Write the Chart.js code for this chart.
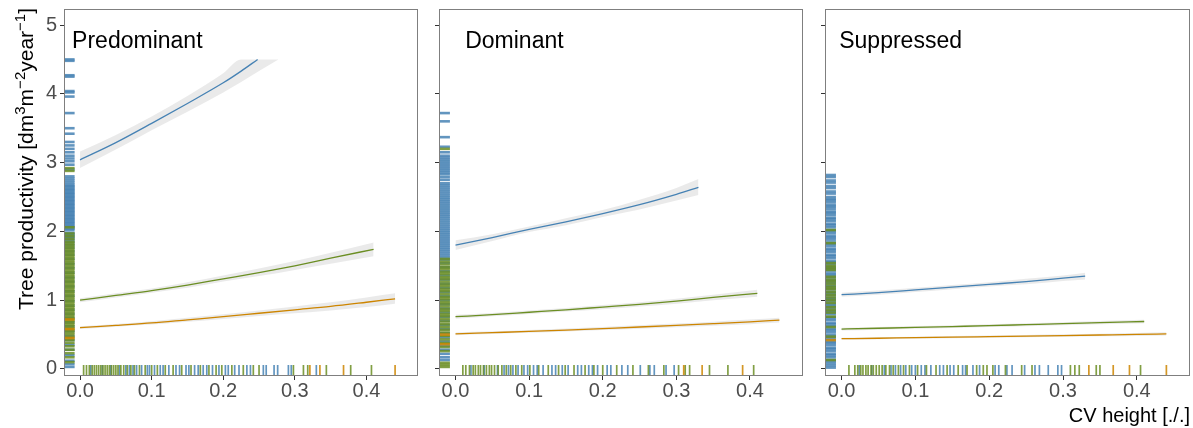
<!DOCTYPE html>
<html>
<head>
<meta charset="utf-8">
<script src="https://cdn.jsdelivr.net/npm/chart.js"></script>
<style>
    html, body { margin: 0; padding: 0; background: #fff; }
    #wrap { position: relative; width: 1193px; height: 428px; overflow: hidden; background: #fff; }
    #wrap canvas { position: absolute; top: 0; }
</style>
</head>
<body>
<div id="wrap">
    <canvas id="panel-pred" width="420" height="428" style="left:0px"></canvas>
    <canvas id="panel-dom" width="386" height="428" style="left:419px"></canvas>
    <canvas id="panel-sup" width="388" height="428" style="left:805px"></canvas>
</div>
<script>
const panelNames = ['Predominant', 'Dominant', 'Suppressed'];
const xTicks = [0, 0.1, 0.2, 0.3, 0.4];
const yTicks = [0, 1, 2, 3, 4, 5];

// x grids of the fitted curves
const blueX = [0, 0.05, 0.1, 0.15, 0.2, 0.25, 0.3, 0.33];
const greenX = [0, 0.05, 0.1, 0.15, 0.2, 0.25, 0.3, 0.35, 0.41];
const orangeX = [0, 0.05, 0.1, 0.15, 0.2, 0.25, 0.3, 0.35, 0.4, 0.44];

// Predominant
const predBlueX = [0, 0.05, 0.1, 0.15, 0.2, 0.225, 0.248];
const predBlue = [3.04, 3.29, 3.57, 3.86, 4.16, 4.33, 4.5];
const predBlueBandX = [0, 0.05, 0.1, 0.15, 0.2, 0.225, 0.25, 0.277];
const predBlueHi = [3.16, 3.4, 3.67, 3.97, 4.3, 4.5, 4.5, 4.5];
const predBlueLo = [2.92, 3.19, 3.47, 3.74, 4.02, 4.17, 4.33, 4.5];
const predGreen = [1.0, 1.07, 1.14, 1.22, 1.31, 1.4, 1.5, 1.61, 1.74];
const predGreenHi = [1.03, 1.1, 1.17, 1.26, 1.36, 1.46, 1.57, 1.69, 1.84];
const predGreenLo = [0.97, 1.04, 1.11, 1.18, 1.27, 1.35, 1.44, 1.53, 1.64];
const predOrange = [0.6, 0.635, 0.67, 0.715, 0.76, 0.81, 0.86, 0.91, 0.97, 1.02];
const predOrangeHi = [0.62, 0.655, 0.695, 0.745, 0.795, 0.85, 0.91, 0.97, 1.04, 1.1];
const predOrangeLo = [0.58, 0.615, 0.645, 0.685, 0.725, 0.77, 0.81, 0.85, 0.9, 0.95];

// Dominant
const domBlue = [1.8, 1.91, 2.03, 2.14, 2.26, 2.39, 2.54, 2.64];
const domBlueHi = [1.87, 1.96, 2.07, 2.19, 2.31, 2.46, 2.63, 2.76];
const domBlueLo = [1.73, 1.86, 1.99, 2.09, 2.21, 2.32, 2.45, 2.53];
const domGreen = [0.76, 0.79, 0.825, 0.86, 0.9, 0.94, 0.985, 1.04, 1.1];
const domGreenHi = [0.79, 0.815, 0.85, 0.885, 0.93, 0.97, 1.02, 1.08, 1.15];
const domGreenLo = [0.73, 0.765, 0.8, 0.835, 0.87, 0.91, 0.95, 1.0, 1.05];
const domOrange = [0.51, 0.528, 0.546, 0.566, 0.588, 0.61, 0.633, 0.658, 0.685, 0.71];
const domOrangeHi = [0.53, 0.548, 0.566, 0.588, 0.61, 0.635, 0.66, 0.688, 0.718, 0.745];
const domOrangeLo = [0.49, 0.508, 0.526, 0.544, 0.566, 0.585, 0.606, 0.628, 0.652, 0.675];

// Suppressed
const supBlue = [1.08, 1.11, 1.15, 1.19, 1.23, 1.27, 1.32, 1.35];
const supBlueHi = [1.11, 1.14, 1.18, 1.22, 1.26, 1.31, 1.36, 1.4];
const supBlueLo = [1.05, 1.08, 1.12, 1.16, 1.2, 1.23, 1.28, 1.3];
const supGreen = [0.58, 0.592, 0.604, 0.617, 0.63, 0.644, 0.658, 0.673, 0.69];
const supGreenHi = [0.6, 0.612, 0.624, 0.637, 0.65, 0.665, 0.68, 0.697, 0.715];
const supGreenLo = [0.56, 0.572, 0.584, 0.597, 0.61, 0.623, 0.636, 0.649, 0.665];
const supOrange = [0.44, 0.447, 0.455, 0.462, 0.47, 0.478, 0.486, 0.494, 0.502, 0.51];
const supOrangeHi = [0.455, 0.462, 0.47, 0.478, 0.486, 0.495, 0.504, 0.513, 0.523, 0.533];
const supOrangeLo = [0.425, 0.432, 0.44, 0.446, 0.454, 0.461, 0.468, 0.475, 0.481, 0.487];

// rugs on the y side
const predRugYBlue = [4.5, 4.48, 4.27, 4.25, 4.04, 4.02, 3.96, 3.72, 3.5, 3.42, 3.3, 3.25, 3.2, 3.15, 3.1, 3.06, 3.02, 2.97, 2.9,
    2.8, 2.77, 2.74, 2.71, 2.68, 2.66, 2.64, 2.62, 2.6, 2.58, 2.56, 2.54, 2.52, 2.5, 2.48, 2.46, 2.44, 2.42, 2.4, 2.38, 2.36,
    2.34, 2.32, 2.3, 2.28, 2.26, 2.24, 2.22, 2.2, 2.18, 2.16, 2.14, 2.12, 2.1, 2.08, 2.06, 2.04, 2.02, 1.98, 1.96, 1.94, 1.92,
    1.9, 1.87, 1.84, 1.8, 1.76, 1.71, 1.66, 1.6, 1.53, 1.47, 1.4, 1.33, 1.27, 1.2, 1.13, 1.06, 0.99, 0.92, 0.86, 0.8, 0.74,
    0.68, 0.62, 0.55, 0.48, 0.42, 0.35, 0.28, 0.2, 0.12, 0.07, 0.03];
const predRugYGreen = [2.92, 2.88, 2.06, 1.97, 1.93, 1.89, 1.85, 1.82, 1.79, 1.76, 1.73, 1.7, 1.67, 1.64, 1.61, 1.58, 1.55,
    1.52, 1.49, 1.46, 1.43, 1.4, 1.37, 1.34, 1.31, 1.28, 1.25, 1.22, 1.19, 1.16, 1.13, 1.1, 1.07, 1.04, 1.01, 0.98, 0.95, 0.92,
    0.89, 0.86, 0.83, 0.8, 0.77, 0.74, 0.71, 0.68, 0.65, 0.62, 0.59, 0.56, 0.53, 0.5, 0.46, 0.42, 0.38, 0.33, 0.28, 0.23, 0.17, 0.1];
const predRugYOrange = [0.45, 0.58, 0.72];

const domRugYBlue = [3.72, 3.6, 3.37, 3.23, 3.15, 3.1, 3.07, 3.04, 3.01, 2.98, 2.95, 2.92, 2.89, 2.86, 2.83, 2.79, 2.75, 2.7,
    2.67, 2.64, 2.61, 2.58, 2.55, 2.52, 2.49, 2.46, 2.43, 2.4, 2.37, 2.34, 2.31, 2.28, 2.25, 2.22, 2.19, 2.16, 2.13, 2.1, 2.07,
    2.04, 2.01, 1.98, 1.95, 1.92, 1.89, 1.86, 1.83, 1.8, 1.77, 1.74, 1.71, 1.68, 1.65, 1.62, 1.59, 1.54, 1.48, 1.42, 1.36, 1.3,
    1.24, 1.18, 1.12, 1.06, 1.0, 0.94, 0.88, 0.82, 0.76, 0.7, 0.64, 0.58, 0.52, 0.46, 0.4, 0.34, 0.28, 0.22, 0.17, 0.13];
const domRugYGreen = [3.2, 1.6, 1.56, 1.52, 1.48, 1.45, 1.41, 1.38, 1.34, 1.31, 1.27, 1.23, 1.2, 1.16, 1.13, 1.09, 1.05, 1.02,
    0.98, 0.95, 0.91, 0.87, 0.84, 0.8, 0.77, 0.73, 0.69, 0.65, 0.61, 0.57, 0.53, 0.48, 0.43, 0.38, 0.32, 0.26, 0.09, 0.06, 0.03];
const domRugYOrange = [0.36, 0.5];

const supRugYBlue = [2.82, 2.79, 2.74, 2.71, 2.66, 2.63, 2.58, 2.55, 2.5, 2.47, 2.45, 2.42, 2.38, 2.36, 2.33, 2.29, 2.27, 2.24,
    2.2, 2.18, 2.15, 2.11, 2.09, 2.06, 2.02, 2.0, 1.97, 1.93, 1.91, 1.88, 1.84, 1.82, 1.79, 1.75, 1.73, 1.7, 1.66, 1.64, 1.61,
    1.57, 1.55, 1.52, 1.48, 1.46, 1.43, 1.39, 1.37, 1.34, 1.3, 1.28, 1.25, 1.21, 1.19, 1.16, 1.12, 1.1, 1.07, 1.03, 1.01, 0.98,
    0.94, 0.92, 0.89, 0.85, 0.83, 0.8, 0.76, 0.74, 0.71, 0.67, 0.65, 0.62, 0.58, 0.56, 0.53, 0.49, 0.47, 0.44, 0.4, 0.38, 0.35,
    0.31, 0.29, 0.26, 0.22, 0.2, 0.17, 0.13, 0.11, 0.08, 0.05, 0.02];
const supRugYGreen = [2.02, 1.83, 1.54, 1.5, 1.47, 1.44, 1.34, 1.3, 1.27, 1.23, 1.19, 1.16, 1.12, 1.08, 1.04, 1.0, 0.96, 0.9,
    0.86, 0.82, 0.76, 0.61, 0.47, 0.13];
const supRugYOrange = [0.42];

// rugs on the x side
const predRugXGreen = [0.005, 0.009, 0.013, 0.017, 0.02, 0.023, 0.026, 0.029, 0.032, 0.035, 0.038, 0.041, 0.044, 0.047, 0.05,
    0.053, 0.057, 0.061, 0.066, 0.071, 0.076, 0.083, 0.091, 0.1, 0.108, 0.119, 0.13, 0.142, 0.155, 0.168, 0.18, 0.19, 0.198,
    0.212, 0.228, 0.242, 0.25, 0.298, 0.312, 0.318, 0.344, 0.378, 0.407];
const predRugXBlue = [0.015, 0.031, 0.043, 0.055, 0.064, 0.069, 0.074, 0.079, 0.086, 0.094, 0.097, 0.104, 0.112, 0.116, 0.124,
    0.134, 0.139, 0.148, 0.152, 0.16, 0.165, 0.172, 0.177, 0.185, 0.194, 0.203, 0.207, 0.216, 0.222, 0.233, 0.238, 0.256, 0.26,
    0.271, 0.276, 0.291, 0.295, 0.33];
const predRugXOrange = [0.321, 0.335, 0.368, 0.44];

const domRugXGreen = [0.01, 0.014, 0.019, 0.024, 0.027, 0.031, 0.034, 0.038, 0.042, 0.046, 0.049, 0.053, 0.058, 0.063, 0.069,
    0.075, 0.082, 0.09, 0.101, 0.113, 0.126, 0.14, 0.149, 0.161, 0.176, 0.188, 0.2, 0.219, 0.241, 0.262, 0.283, 0.303, 0.312,
    0.318, 0.345, 0.37, 0.405];
const domRugXBlue = [0.021, 0.039, 0.057, 0.066, 0.072, 0.078, 0.085, 0.093, 0.098, 0.106, 0.111, 0.119, 0.131, 0.136, 0.145,
    0.153, 0.166, 0.171, 0.181, 0.186, 0.193, 0.206, 0.211, 0.226, 0.234, 0.251, 0.264, 0.27, 0.286, 0.297];
const domRugXOrange = [0.31, 0.335, 0.39];

const supRugXGreen = [0.01, 0.018, 0.022, 0.026, 0.029, 0.033, 0.036, 0.04, 0.043, 0.047, 0.051, 0.055, 0.06, 0.065, 0.07,
    0.077, 0.084, 0.092, 0.103, 0.115, 0.128, 0.143, 0.158, 0.17, 0.183, 0.192, 0.197, 0.205, 0.222, 0.244, 0.258, 0.31,
    0.316, 0.322, 0.345, 0.35, 0.405];
const supRugXBlue = [0.024, 0.041, 0.058, 0.067, 0.073, 0.08, 0.087, 0.095, 0.1, 0.108, 0.113, 0.121, 0.133, 0.138, 0.147,
    0.152, 0.164, 0.168, 0.178, 0.187, 0.208, 0.213, 0.224, 0.231, 0.248, 0.262, 0.268, 0.28, 0.293, 0.298];
const supRugXOrange = [0.335, 0.368, 0.39, 0.44];

const fontFamily = '"Liberation Sans", Arial, sans-serif';
const blueColor = '#4682B4';
const greenColor = '#6B8E23';
const orangeColor = '#CD8500';
const bandColor = 'rgba(150, 150, 150, 0.2)';
const rugBlue = 'rgba(70, 130, 180, 0.85)';
const rugGreen = 'rgba(107, 142, 35, 0.85)';
const rugOrange = 'rgba(205, 133, 0, 0.85)';

function toPoints(xs, ys) {
    return xs.map((x, i) => ({ x: x, y: ys[i] }));
}

function rugPlugin(rugsX, rugsY) {
    return {
        id: 'rug',
        beforeDatasetsDraw(chart) {
            const { ctx, chartArea, scales } = chart;
            const lenY = (chartArea.right - chartArea.left) * 0.03;
            const lenX = (chartArea.bottom - chartArea.top) * 0.03;
            ctx.save();
            ctx.lineWidth = 2.6;
            rugsY.forEach(r => {
                ctx.strokeStyle = r.color;
                r.values.forEach(v => {
                    const py = scales.y.getPixelForValue(v);
                    ctx.beginPath();
                    ctx.moveTo(chartArea.left, py);
                    ctx.lineTo(chartArea.left + lenY, py);
                    ctx.stroke();
                });
            });
            ctx.lineWidth = 1.7;
            rugsX.forEach(r => {
                ctx.strokeStyle = r.color;
                r.values.forEach(v => {
                    const px = scales.x.getPixelForValue(v);
                    ctx.beginPath();
                    ctx.moveTo(px, chartArea.bottom);
                    ctx.lineTo(px, chartArea.bottom - lenX);
                    ctx.stroke();
                });
            });
            ctx.restore();
        }
    };
}

function drawYTitle(ctx) {
    const parts = [
        ['Tree productivity [dm', false], ['3', true], ['m', false], ['\u22122', true],
        ['year', false], ['\u22121', true], [']', false]
    ];
    const mainFont = '21px ' + fontFamily;
    const supFont = '15px ' + fontFamily;
    ctx.save();
    ctx.translate(33, 159);
    ctx.rotate(-Math.PI / 2);
    ctx.fillStyle = '#000';
    ctx.textBaseline = 'alphabetic';
    let total = 0;
    parts.forEach(p => {
        ctx.font = p[1] ? supFont : mainFont;
        total += ctx.measureText(p[0]).width;
    });
    let pos = -total / 2;
    parts.forEach(p => {
        ctx.font = p[1] ? supFont : mainFont;
        ctx.fillText(p[0], pos, p[1] ? -8 : 0);
        pos += ctx.measureText(p[0]).width;
    });
    ctx.restore();
}

function labelPlugin(name, withYTitle) {
    return {
        id: 'panelLabel',
        afterDraw(chart) {
            const { ctx, chartArea, scales } = chart;
            ctx.save();
            // panel frame
            ctx.strokeStyle = '#7f7f7f';
            ctx.lineWidth = 1;
            ctx.strokeRect(chartArea.left + 0.5, chartArea.top + 0.5,
                chartArea.right - chartArea.left - 1, chartArea.bottom - chartArea.top - 1);
            ctx.fillStyle = '#000';
            ctx.font = '23px ' + fontFamily;
            ctx.textAlign = 'center';
            ctx.textBaseline = 'alphabetic';
            ctx.fillText(name, scales.x.getPixelForValue(0.08), scales.y.getPixelForValue(4.66));
            ctx.restore();
            if (withYTitle) drawYTitle(ctx);
        }
    };
}

function createPanel(canvasId, cfg) {
    const ctx = document.getElementById(canvasId).getContext('2d');
    let datasets = [];
    cfg.lines.forEach(l => {
        datasets.push({
            data: toPoints(l.x, l.y),
            borderColor: l.color,
            borderWidth: 1.3,
            pointRadius: 0,
            fill: false,
            cubicInterpolationMode: 'monotone'
        });
    });
    cfg.bands.forEach(b => {
        datasets.push({
            data: toPoints(b.x, b.hi),
            borderWidth: 0,
            borderColor: 'rgba(0,0,0,0)',
            backgroundColor: bandColor,
            pointRadius: 0,
            fill: '+1',
            cubicInterpolationMode: 'monotone'
        });
        datasets.push({
            data: toPoints(b.x, b.lo),
            borderWidth: 0,
            borderColor: 'rgba(0,0,0,0)',
            pointRadius: 0,
            fill: false,
            cubicInterpolationMode: 'monotone'
        });
    });

    return new Chart(ctx, {
        type: 'line',
        data: { datasets: datasets },
        options: {
            responsive: false,
            animation: false,
            events: [],
            layout: { padding: { left: 0, right: cfg.padRight, top: 9, bottom: 0 } },
            scales: {
                x: {
                    type: 'linear',
                    min: -0.0224,
                    max: 0.472,
                    afterBuildTicks: s => { s.ticks = xTicks.map(v => ({ value: v })); },
                    afterFit: s => {
                        s.height = 52;
                        s.paddingLeft = 0;
                        s.paddingRight = 0;
                    },
                    border: { display: false },
                    grid: { drawOnChartArea: false, drawTicks: true, tickLength: 4, tickColor: '#333', tickWidth: 1 },
                    ticks: {
                        color: '#4d4d4d',
                        font: { family: fontFamily, size: 20, lineHeight: 1 },
                        padding: 1,
                        maxRotation: 0,
                        callback: v => v.toFixed(1)
                    },
                    title: {
                        display: cfg.xTitle,
                        text: 'CV height [./.]',
                        align: 'end',
                        color: '#000',
                        padding: { top: 0, bottom: 0 },
                        font: { family: fontFamily, size: 20 }
                    }
                },
                y: {
                    type: 'linear',
                    min: -0.102,
                    max: 5.233,
                    afterBuildTicks: s => { s.ticks = yTicks.map(v => ({ value: v })); },
                    afterFit: s => {
                        s.width = cfg.yWidth;
                        s.paddingTop = 0;
                        s.paddingBottom = 0;
                    },
                    border: { display: false },
                    grid: { drawOnChartArea: false, drawTicks: true, tickLength: 4, tickColor: '#333', tickWidth: 1 },
                    ticks: {
                        display: cfg.yLabels,
                        color: '#4d4d4d',
                        font: { family: fontFamily, size: 20 },
                        padding: 3,
                        callback: v => String(v)
                    }
                }
            },
            plugins: {
                legend: { display: false },
                tooltip: { enabled: false }
            }
        },
        plugins: [rugPlugin(cfg.rugsX, cfg.rugsY), labelPlugin(cfg.name, cfg.yLabels)]
    });
}

createPanel('panel-pred', {
    name: panelNames[0], yWidth: 64, padRight: 2, yLabels: true, xTitle: false,
    lines: [
        { x: predBlueX, y: predBlue, color: blueColor },
        { x: greenX, y: predGreen, color: greenColor },
        { x: orangeX, y: predOrange, color: orangeColor }
    ],
    bands: [
        { x: predBlueBandX, hi: predBlueHi, lo: predBlueLo },
        { x: greenX, hi: predGreenHi, lo: predGreenLo },
        { x: orangeX, hi: predOrangeHi, lo: predOrangeLo }
    ],
    rugsY: [
        { color: rugBlue, values: predRugYBlue },
        { color: rugGreen, values: predRugYGreen },
        { color: rugOrange, values: predRugYOrange }
    ],
    rugsX: [
        { color: rugBlue, values: predRugXBlue },
        { color: rugGreen, values: predRugXGreen },
        { color: rugOrange, values: predRugXOrange }
    ]
});

createPanel('panel-dom', {
    name: panelNames[1], yWidth: 20, padRight: 2, yLabels: false, xTitle: false,
    lines: [
        { x: blueX, y: domBlue, color: blueColor },
        { x: greenX, y: domGreen, color: greenColor },
        { x: orangeX, y: domOrange, color: orangeColor }
    ],
    bands: [
        { x: blueX, hi: domBlueHi, lo: domBlueLo },
        { x: greenX, hi: domGreenHi, lo: domGreenLo },
        { x: orangeX, hi: domOrangeHi, lo: domOrangeLo }
    ],
    rugsY: [
        { color: rugBlue, values: domRugYBlue },
        { color: rugGreen, values: domRugYGreen },
        { color: rugOrange, values: domRugYOrange }
    ],
    rugsX: [
        { color: rugBlue, values: domRugXBlue },
        { color: rugGreen, values: domRugXGreen },
        { color: rugOrange, values: domRugXOrange }
    ]
});

createPanel('panel-sup', {
    name: panelNames[2], yWidth: 20, padRight: 3, yLabels: false, xTitle: true,
    lines: [
        { x: blueX, y: supBlue, color: blueColor },
        { x: greenX, y: supGreen, color: greenColor },
        { x: orangeX, y: supOrange, color: orangeColor }
    ],
    bands: [
        { x: blueX, hi: supBlueHi, lo: supBlueLo },
        { x: greenX, hi: supGreenHi, lo: supGreenLo },
        { x: orangeX, hi: supOrangeHi, lo: supOrangeLo }
    ],
    rugsY: [
        { color: rugBlue, values: supRugYBlue },
        { color: rugGreen, values: supRugYGreen },
        { color: rugOrange, values: supRugYOrange }
    ],
    rugsX: [
        { color: rugBlue, values: supRugXBlue },
        { color: rugGreen, values: supRugXGreen },
        { color: rugOrange, values: supRugXOrange }
    ]
});
</script>
</body>
</html>
